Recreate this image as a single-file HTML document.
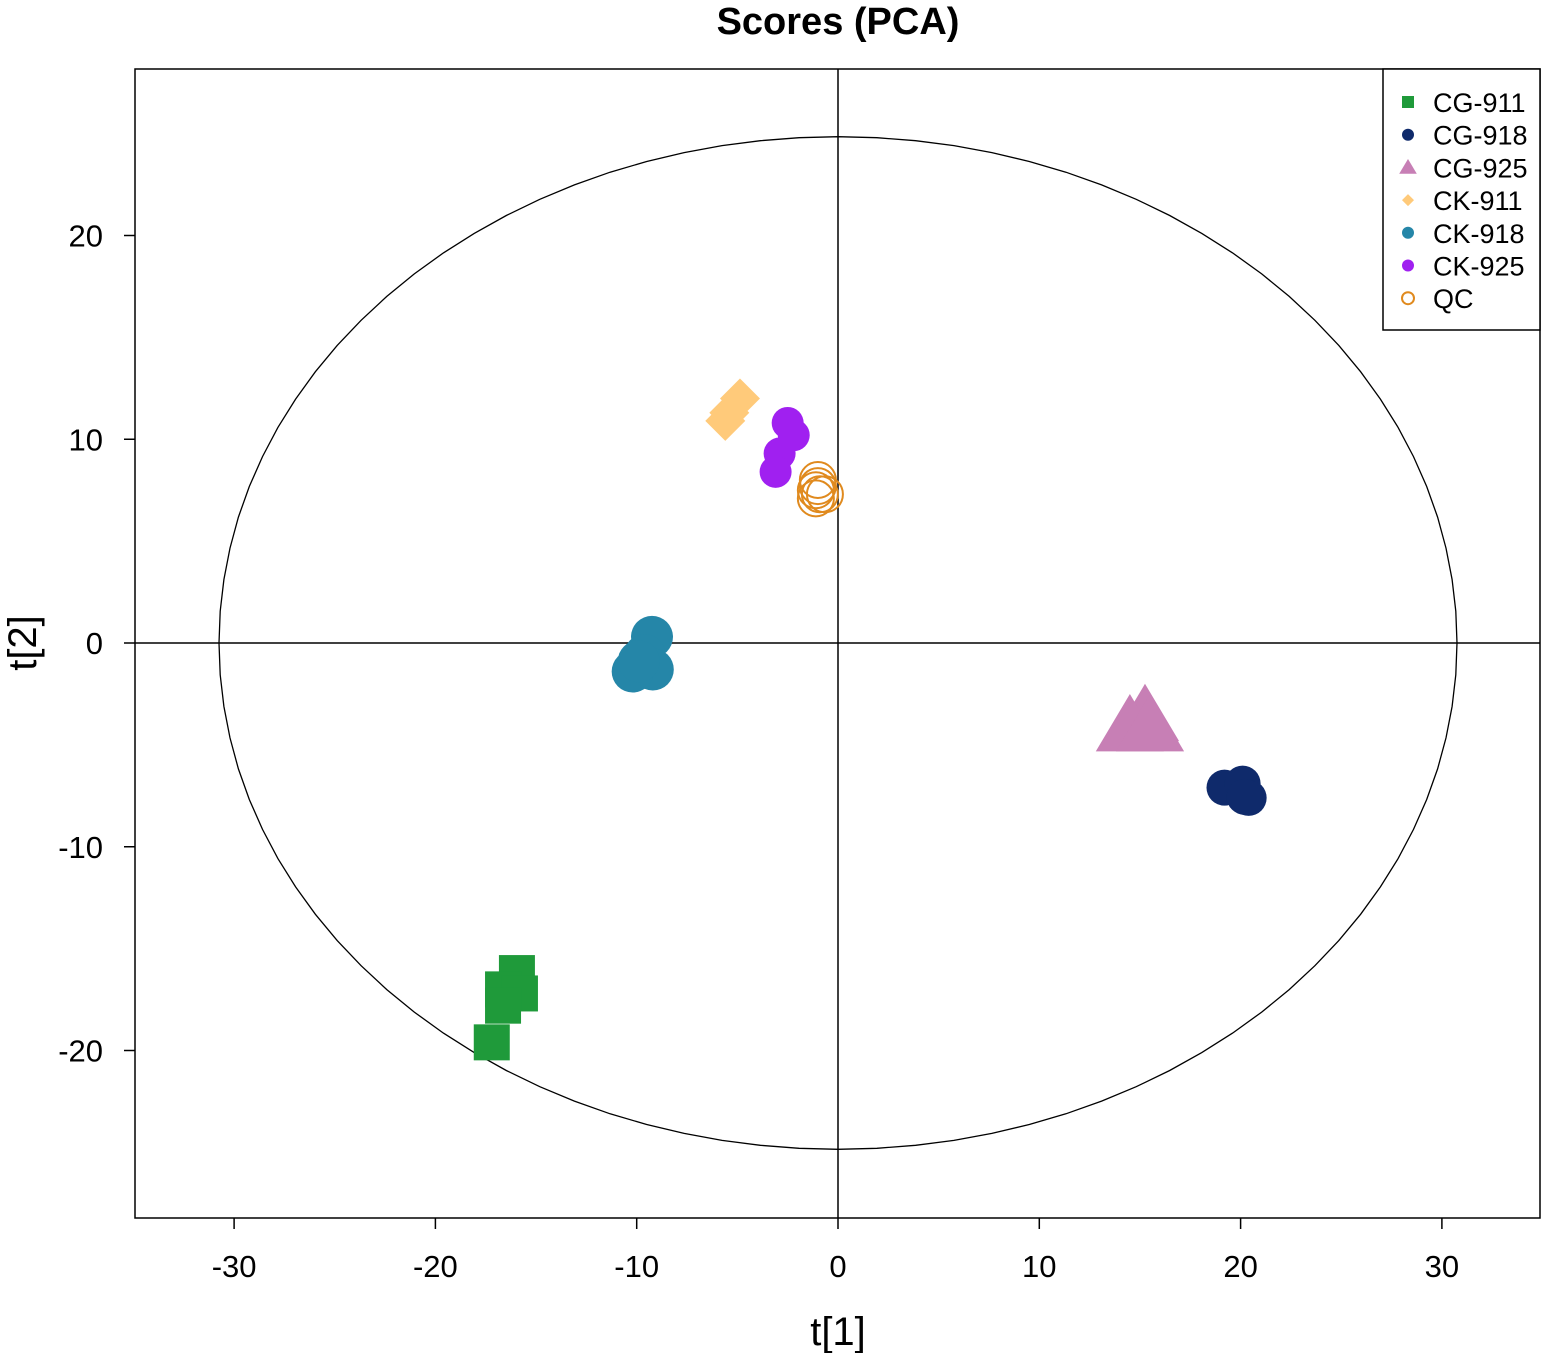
<!DOCTYPE html>
<html><head><meta charset="utf-8"><style>
body{margin:0;background:#fff;}
svg{display:block;font-family:"Liberation Sans",Arial,sans-serif;}
</style></head><body>
<svg id="chart" width="1545" height="1353" viewBox="0 0 1545 1353" xmlns="http://www.w3.org/2000/svg">
<text x="838" y="34" text-anchor="middle" font-size="38" font-weight="bold">Scores (PCA)</text>
<rect x="135" y="69" width="1405" height="1149" fill="none" stroke="#000" stroke-width="1.5"/>
<text x="838" y="1345" text-anchor="middle" font-size="40">t[1]</text>
<text transform="translate(36,643) rotate(-90)" text-anchor="middle" font-size="40">t[2]</text>
<g id="axes"></g>
<g id="marks"></g>
<g id="legend"></g>
</svg>
<script>
const xTicks=[-30,-20,-10,0,10,20,30];
const yTicks=[-20,-10,0,10,20];
const ellipseRadii=[30.75,24.85];
const groups=['CG-911','CG-918','CG-925','CK-911','CK-918','CK-925','QC'];
const cg911X=[-15.95,-16.64,-15.8,-16.64,-17.2];
const cg911Y=[-16.2,-17.0,-17.2,-17.8,-19.6];
const cg918X=[19.2,20.1,20.4,20.2];
const cg918Y=[-7.1,-6.9,-7.6,-7.55];
const cg925X=[15.25,14.5,15.5];
const cg925Y=[-3.6,-4.1,-4.1];
const ck911X=[-4.87,-5.4,-5.6];
const ck911Y=[12.0,11.3,10.9];
const ck918X=[-9.24,-9.6,-9.2,-10.2,-9.9];
const ck918Y=[0.3,-0.6,-1.3,-1.4,-0.9];
const ck925X=[-2.5,-2.2,-2.9,-3.1];
const ck925Y=[10.8,10.2,9.3,8.4];
const qcX=[-1.0,-1.1,-0.9,-0.65,-1.1,-1.0];
const qcY=[8.0,7.5,7.3,7.3,7.1,7.7];

const NS='http://www.w3.org/2000/svg';
function sx(v){return 838+v*20.13;}
function sy(v){return 643-v*20.375;}
function mk(tag,attrs,parent){const e=document.createElementNS(NS,tag);for(const k in attrs)e.setAttribute(k,attrs[k]);parent.appendChild(e);return e;}
const axes=document.getElementById('axes'),marks=document.getElementById('marks'),leg=document.getElementById('legend');
xTicks.forEach(t=>{
  const l=mk('line',{x1:sx(t),x2:sx(t),y1:1218,y2:1229,stroke:'#000','stroke-width':1.5},axes);
  
  
  const tx=mk('text',{x:sx(t),y:1277,'text-anchor':'middle','font-size':31},axes);tx.textContent=t;
  
  
});
yTicks.forEach(t=>{
  const l=mk('line',{x1:124,x2:135,y1:sy(t),y2:sy(t),stroke:'#000','stroke-width':1.5},axes);
  
  
  const tx=mk('text',{x:103,y:sy(t)+11,'text-anchor':'end','font-size':31},axes);tx.textContent=t;
  
  
});
const vz=mk('line',{x1:sx(0),x2:sx(0),y1:69,y2:1218,stroke:'#000','stroke-width':1.5},axes);


const hz=mk('line',{x1:135,x2:1540,y1:sy(0),y2:sy(0),stroke:'#000','stroke-width':1.5},axes);


let d='';for(let i=0;i<=100;i++){const a=i/100*2*Math.PI;d+=(i?'L':'M')+sx(ellipseRadii[0]*Math.cos(a)).toFixed(1)+','+sy(ellipseRadii[1]*Math.sin(a)).toFixed(1);}
const el=mk('path',{d:d+'Z',fill:'none',stroke:'#000','stroke-width':1.3},axes);



const styles=[
 {x:cg911X,y:cg911Y,c:'#1f9a3a',s:'square',r:18},
 {x:cg918X,y:cg918Y,c:'#0f2a6b',s:'circle',r:18},
 {x:cg925X,y:cg925Y,c:'#c77fb5',s:'triangle',r:31},
 {x:ck911X,y:ck911Y,c:'#ffca7a',s:'diamond',r:20},
 {x:ck918X,y:ck918Y,c:'#2586a8',s:'circle',r:21},
 {x:ck925X,y:ck925Y,c:'#a020f0',s:'circle',r:16},
 {x:qcX,y:qcY,c:'#e08a1e',s:'open',r:18}
];
function shape(p,s,cx,cy,r,c){
  if(s==='square')return mk('rect',{x:cx-r,y:cy-r,width:2*r,height:2*r,fill:c},p);
  if(s==='circle')return mk('circle',{cx:cx,cy:cy,r:r,fill:c},p);
  if(s==='open')return mk('circle',{cx:cx,cy:cy,r:r,fill:'none',stroke:c,'stroke-width':2},p);
  if(s==='triangle')return mk('polygon',{points:`${cx},${cy-r*1.05} ${cx-r*1.1},${cy+r*0.8} ${cx+r*1.1},${cy+r*0.8}`,fill:c},p);
  if(s==='diamond')return mk('polygon',{points:`${cx},${cy-r} ${cx+r},${cy} ${cx},${cy+r} ${cx-r},${cy}`,fill:c},p);
}
styles.forEach((st,gi)=>{
  const g=mk('g',{},marks);
  
  
  st.x.forEach((v,i)=>{
    const e=shape(g,st.s,sx(v),sy(st.y[i]),st.r,st.c);
    
    
  });
});
const lb=mk('rect',{x:1383,y:69,width:157,height:261,fill:'#fff',stroke:'#000','stroke-width':1.5},leg);


groups.forEach((gname,i)=>{
  const y=102+i*32.7;const st=styles[i];
  const g=mk('g',{},leg);
  
  
  const rr=st.s==='triangle'?8:6;
  shape(g,st.s,1408,y,rr,st.c);
  const t=mk('text',{x:1433,y:y+10,'font-size':27},g);t.textContent=gname;
});
</script>
</body></html>
